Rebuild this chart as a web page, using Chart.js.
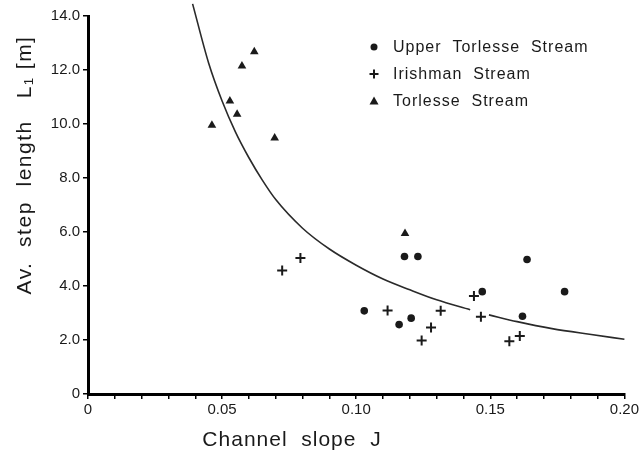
<!DOCTYPE html>
<html>
<head>
<meta charset="utf-8">
<title>Step length vs channel slope</title>
<script src="https://cdn.jsdelivr.net/npm/chart.js@4.4.1/dist/chart.umd.min.js"></script>
<style>
    html, body { margin: 0; padding: 0; background: #fff; }
    #wrap { width: 641px; height: 457px; }
</style>
</head>
<body>
<div id="wrap"><canvas id="myChart"></canvas></div>
<script>
// Channel slope J and average step length L1 [m] for each stream
const upperTorlesseJ = [0.103, 0.116, 0.1205, 0.118, 0.123, 0.147, 0.162, 0.1637, 0.1777];
const upperTorlesseL = [3.08, 2.57, 2.81, 5.09, 5.09, 3.79, 2.88, 4.98, 3.79];

const irishmanJ = [0.0724, 0.0792, 0.1117, 0.1315, 0.1279, 0.1244, 0.1439, 0.1465, 0.1571, 0.161];
const irishmanL = [4.57, 5.04, 3.09, 3.08, 2.46, 1.98, 3.63, 2.86, 1.95, 2.15];

const torlesseJ = [0.0462, 0.0529, 0.0556, 0.0574, 0.062, 0.0696, 0.1182];
const torlesseL = [9.95, 10.85, 10.36, 12.15, 12.68, 9.48, 5.94];

// Curve drawn through the data (null leaves the small break near J = 0.146)
const curveJ = [0.039, 0.045, 0.050, 0.055, 0.060, 0.065, 0.070, 0.080, 0.090, 0.100, 0.110, 0.120, 0.130, 0.1425, 0.146, 0.1495, 0.160, 0.173, 0.187, 0.200];
const curveL = [14.45, 12.25, 10.85, 9.7, 8.75, 7.92, 7.2, 6.14, 5.37, 4.77, 4.26, 3.86, 3.49, 3.12, null, 2.93, 2.68, 2.42, 2.21, 2.03];

const seriesNames = ['Upper Torlesse Stream', 'Irishman Stream', 'Torlesse Stream'];
const xTickLabels = ['0', '0.05', '0.10', '0.15', '0.20'];
const yTickLabels = ['0', '2.0', '4.0', '6.0', '8.0', '10.0', '12.0', '14.0'];

const ink = '#1a1a1a';
const fontFamily = '"Liberation Sans", Arial, sans-serif';

function toPoints(xs, ys) {
    return xs.map((x, i) => ({ x: x, y: ys[i] }));
}

// Titles and the in-plot legend
const decorations = {
    id: 'decorations',
    afterDraw(chart) {
        const ctx = chart.ctx;
        ctx.save();
        ctx.fillStyle = ink;
        ctx.strokeStyle = ink;

        // axis titles
        ctx.font = '21px ' + fontFamily;
        ctx.letterSpacing = '1px';
        ctx.textAlign = 'center';
        ctx.textBaseline = 'middle';
        ctx.fillText('Channel  slope  J', 292, 440);

        ctx.save();
        ctx.translate(25, 165);
        ctx.rotate(-Math.PI / 2);
        ctx.font = '21px ' + fontFamily;
        ctx.letterSpacing = '1.5px';
        ctx.fillText('Av.  step  length   L\u2081 [m]', 0, 0);
        ctx.restore();

        // legend
        ctx.font = '16px ' + fontFamily;
        ctx.letterSpacing = '1px';
        ctx.textAlign = 'left';
        const rows = [47, 74, 101];
        const mx = 374;
        rows.forEach((y, i) => {
            ctx.beginPath();
            if (i === 0) {
                ctx.arc(mx, y, 3.5, 0, Math.PI * 2);
                ctx.fill();
            } else if (i === 1) {
                ctx.lineWidth = 2;
                ctx.moveTo(mx - 4.5, y);
                ctx.lineTo(mx + 4.5, y);
                ctx.moveTo(mx, y - 4.5);
                ctx.lineTo(mx, y + 4.5);
                ctx.stroke();
            } else {
                ctx.moveTo(mx, y - 4.5);
                ctx.lineTo(mx + 4.5, y + 3.5);
                ctx.lineTo(mx - 4.5, y + 3.5);
                ctx.closePath();
                ctx.fill();
            }
            ctx.fillText(seriesNames[i].split(' ').join('  '), 393, y + 1);
        });
        ctx.restore();
    }
};

const ctx = document.getElementById('myChart').getContext('2d');
new Chart(ctx, {
    type: 'scatter',
    data: {
        datasets: [
            {
                label: seriesNames[0],
                data: toPoints(upperTorlesseJ, upperTorlesseL),
                pointStyle: 'circle',
                pointRadius: 3.8,
                backgroundColor: ink,
                borderColor: ink,
                borderWidth: 0
            },
            {
                label: seriesNames[1],
                data: toPoints(irishmanJ, irishmanL),
                pointStyle: 'cross',
                pointRadius: 5,
                borderColor: ink,
                borderWidth: 2
            },
            {
                label: seriesNames[2],
                data: toPoints(torlesseJ, torlesseL),
                pointStyle: 'triangle',
                pointRadius: 5,
                backgroundColor: ink,
                borderColor: ink,
                borderWidth: 0
            },
            {
                label: 'curve',
                type: 'line',
                data: toPoints(curveJ, curveL),
                showLine: true,
                spanGaps: false,
                pointRadius: 0,
                borderColor: '#2a2a2a',
                borderWidth: 1.6,
                cubicInterpolationMode: 'monotone',
                fill: false
            }
        ]
    },
    options: {
        responsive: true,
        maintainAspectRatio: false,
        animation: false,
        clip: false,
        layout: { padding: { top: 16, right: 15, left: 0, bottom: 0 } },
        plugins: {
            legend: { display: false },
            tooltip: { enabled: false }
        },
        scales: {
            x: {
                type: 'linear',
                min: 0,
                max: 0.2,
                afterFit(scale) { scale.height = 63; },
                border: { display: true, color: '#000', width: 3 },
                grid: { drawOnChartArea: false, color: '#000', lineWidth: 1.5, tickLength: 5 },
                ticks: {
                    stepSize: 0.01,
                    autoSkip: false,
                    maxRotation: 0,
                    padding: 2,
                    color: ink,
                    font: { family: fontFamily, size: 15 },
                    callback: v => {
                        const k = Math.round(v * 100);
                        return k % 5 === 0 ? xTickLabels[k / 5] : '';
                    }
                }
            },
            y: {
                min: 0,
                max: 14,
                afterFit(scale) { scale.width = 88; },
                border: { display: true, color: '#000', width: 3 },
                grid: { drawOnChartArea: false, color: '#000', lineWidth: 1.5, tickLength: 5 },
                ticks: {
                    stepSize: 2,
                    padding: 3,
                    color: ink,
                    font: { family: fontFamily, size: 15 },
                    callback: v => yTickLabels[Math.round(v / 2)]
                }
            }
        }
    },
    plugins: [decorations]
});
</script>
</body>
</html>
